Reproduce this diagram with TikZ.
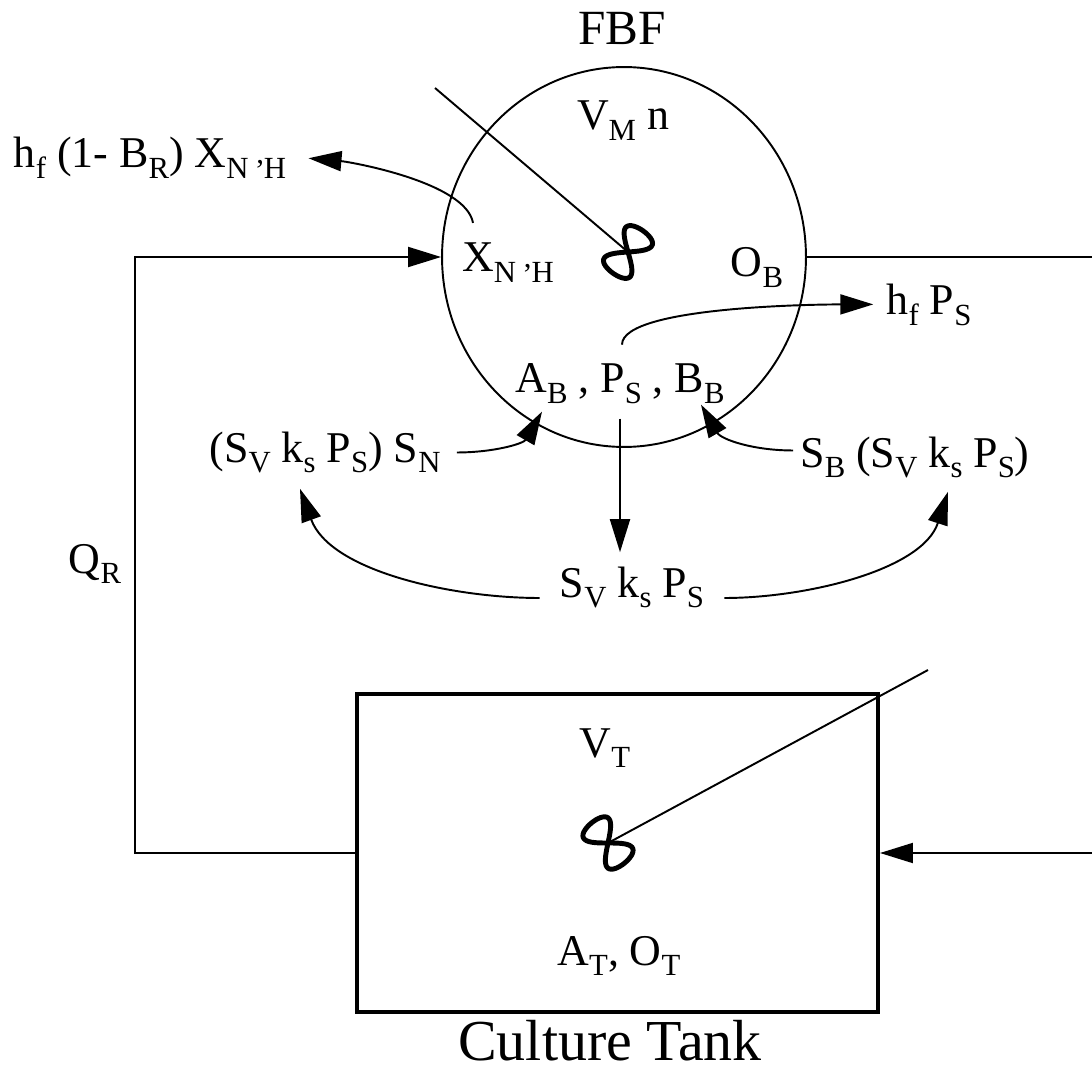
\documentclass[tikz,border=0pt]{standalone}
\usepackage{fontspec}
\setmainfont{Liberation Serif}
\usetikzlibrary{arrows.meta, calc, shapes.geometric}
\newcommand{\lo}[1]{\raisebox{-0.25em}{\fontsize{17.5}{18}\selectfont #1}}
\newcommand{\upc}{\raisebox{0.5em}{,}}

\begin{document}
\begin{tikzpicture}[
    x=0.02cm, y=-0.02cm,
    lbl/.style={font=\fontsize{25}{30}\selectfont, inner sep=0pt, anchor=base},
    ttl/.style={lbl, font=\fontsize{28}{32}\selectfont},
    vessel/.style={draw, ellipse, line width=1.1pt, inner sep=0pt,
                   minimum width=7.28cm, minimum height=7.6cm},
    tankbox/.style={draw, rectangle, line width=2.3pt,
                    minimum width=10.42cm, minimum height=6.36cm},
    flow/.style={line width=1.1pt},
    arr/.style={flow, -{Triangle[length=0.66cm, width=0.4cm]}},
    mixer/.pic={\draw[line width=2.8pt] plot[domain=0:355, samples=72, smooth cycle]
                ({26*cos(\x)}, {32*sin(\x)*cos(\x)});}
  ]
  \useasboundingbox (0,0) rectangle (1092,1074);
  \clip (0,0) rectangle (1092,1074);

  % vessels
  \node[vessel] (fbf) at (624,257) {};
  \node[tankbox] (tank) at (617.5,853) {};

  % labels
  \node[ttl] (fbfname) at (622,45) {FBF};
  \node[lbl] (vmn) at (623,130) {V\lo{M} n};
  \node[lbl] (xnh) at (508,272) {X\lo{N \upc H}};
  \node[lbl] (ob) at (757,277) {O\lo{B}};
  \node[lbl] (hfx) at (150,168) {h\lo{f} (1- B\lo{R}) X\lo{N \upc H}};
  \node[lbl] (hps) at (929,315) {h\lo{f} P\lo{S}};
  \node[lbl] (aps) at (620,393) {A\lo{B} , P\lo{S} , B\lo{B}};
  \node[lbl] (snl) at (325,462) {(S\lo{V} k\lo{s} P\lo{S}) S\lo{N}};
  \node[lbl] (sbr) at (915,467) {S\lo{B} (S\lo{V} k\lo{s} P\lo{S})};
  \node[lbl] (svk) at (632,597) {S\lo{V} k\lo{s} P\lo{S}};
  \node[lbl] (qr) at (95,573) {Q\lo{R}};
  \node[lbl] (vt) at (605,757) {V\lo{T}};
  \node[lbl] (ato) at (619,965) {A\lo{T}, O\lo{T}};
  \node[ttl, font=\fontsize{33}{36}\selectfont] (tankname) at (610,1060) {Culture Tank};

  % recycle loop and feed
  \draw[arr] (tank.west) -- ++(-220,0) |- (fbf.west);
  \coordinate (rt) at (1100,257);
  \draw[arr] (fbf.east) -- (rt) |- (tank.east);

  % stirrers
  \coordinate (mixF) at (628,252);
  \coordinate (shaftF) at (435,88);
  \draw[flow] (shaftF) -- (mixF);
  \pic[rotate=55] at (mixF) {mixer};
  \coordinate (mixT) at (608,843);
  \coordinate (shaftT) at (928,670);
  \draw[flow] (shaftT) -- (mixT);
  \pic[rotate=-51] at (mixT) {mixer};

  % fluxes
  \draw[arr] ($(xnh.north)+(-35,-20)$) to[out=100, in=-5, looseness=0.6] ($(hfx.east)+(22,0)$);
  \draw[arr] ($(aps.north)+(2,-19)$) to[out=90, in=180, looseness=0.4] ($(hps.west)+(-13,-1)$);
  \draw[arr] ($(snl.east)+(16,0)$) to[out=0, in=-120] ($(aps.south)+(-78,7)$);
  \draw[arr] ($(sbr.west)+(-7,-7)$) to[out=180, in=-60] ($(aps.south)+(81,0)$);
  \draw[arr] ($(aps.south)+(0,14)$) -- ($(aps.south |- svk.north)+(0,-14)$);
  \draw[arr] ($(svk.base west)+(-20,1)$) to[out=180, in=-70, looseness=0.85] ($(snl.south)+(-25,15)$);
  \draw[arr] ($(svk.base east)+(20,1)$) to[out=0, in=-108, looseness=0.85] ($(sbr.south)+(33,13)$);
\end{tikzpicture}
\end{document}
